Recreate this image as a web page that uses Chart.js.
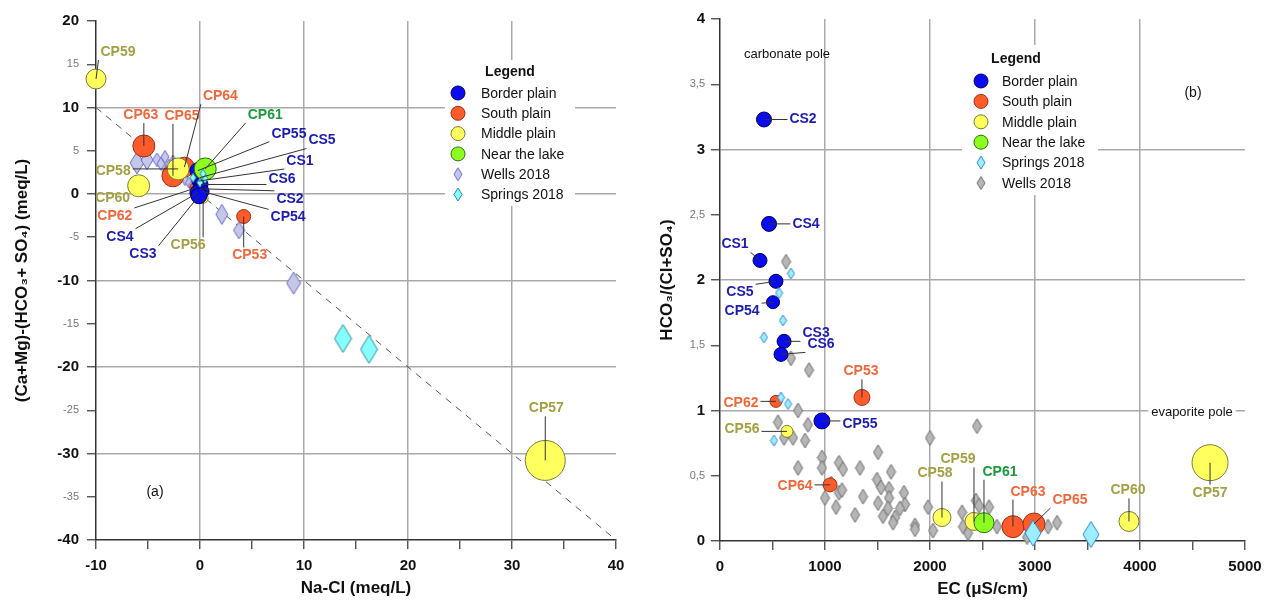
<!DOCTYPE html>
<html><head><meta charset="utf-8">
<script src="https://cdn.jsdelivr.net/npm/chart.js@4.4.1/dist/chart.umd.min.js"></script>
<style>
html,body{margin:0;padding:0;background:#fff;}
#wrap{position:relative;width:1274px;height:615px;overflow:hidden;}
#c1{position:absolute;left:0;top:0;}
#c2{position:absolute;left:637px;top:0;}
</style></head><body>
<div id="wrap"><canvas id="c1" width="637" height="615"></canvas><canvas id="c2" width="637" height="615"></canvas></div>
<script>
const FONT = "'Liberation Sans', Arial, sans-serif";

/* ---------- DATA: chart (a) ---------- */
const aBorderNames = ['CP55','CS5','CS1','CS6','CS2','CP54','CS4','CS3'];
const aBorderX = [-0.2, 0.0, -0.1, 0.1, 0.0, 0.2, -0.2, -0.1];
const aBorderY = [2.7, 1.9, 1.5, 1.1, 0.6, 0.3, 0.15, -0.2];
const aSouthNames = ['CP63','CP65','CP64','CP62','CP53'];
const aSouthX = [-5.4, -2.6, -1.5, -0.4, 4.2];
const aSouthY = [5.55, 2.1, 3.1, 0.7, -2.6];
const aMiddleNames = ['CP59','CP58','CP60','CP56','CP57'];
const aMiddleX = [-10.0, -2.1, -5.9, 0.3, 33.2];
const aMiddleY = [13.3, 2.9, 0.95, -0.5, -30.8];
const aLakeNames = ['CP61'];
const aLakeX = [0.5];
const aLakeY = [2.9];
const aWellsX = [-6.06, -5.1, -4.13, -3.75, -3.37, -2.98, -2.6, -2.21, -1.83, -1.44, -1.06, -0.77, -3.27, -1.35, 2.1, 3.75, 9.0];
const aWellsY = [3.6, 3.95, 3.95, 3.49, 4.29, 3.26, 3.83, 2.45, 2.0, 1.65, 1.31, 0.96, 2.68, 2.91, -2.36, -4.2, -10.3];
const aSpringsX = [13.75, 16.25, -0.67, 0.0, 0.48, 0.29];
const aSpringsY = [-16.7, -17.96, 1.88, 1.31, 1.77, 2.34];
const aRefLineX = [-10, 40];
const aRefLineY = [10, -40];
const aXTicks = [-10, 0, 10, 20, 30, 40];
const aYTicks = [20, 10, 0, -10, -20, -30, -40];

/* ---------- DATA: chart (b) ---------- */
const bBorderNames = ['CS2','CS4','CS1','CS5','CP54','CS3','CS6','CP55'];
const bBorderX = [419, 467, 381, 533, 505, 610, 581, 971];
const bBorderY = [3.23, 2.43, 2.15, 1.99, 1.83, 1.53, 1.43, 0.92];
const bSouthNames = ['CP62','CP53','CP64','CP63','CP65'];
const bSouthX = [533, 1352, 1048, 2790, 2990];
const bSouthY = [1.07, 1.10, 0.43, 0.11, 0.13];
const bMiddleNames = ['CP56','CP58','CP59','CP60','CP57'];
const bMiddleX = [638, 2114, 2419, 3895, 4667];
const bMiddleY = [0.84, 0.18, 0.15, 0.15, 0.60];
const bLakeNames = ['CP61'];
const bLakeX = [2514];
const bLakeY = [0.14];
const bSpringsX = [676, 562, 600, 419, 581, 648, 514, 2981, 3533];
const bSpringsY = [2.05, 1.90, 1.69, 1.56, 1.10, 1.05, 0.77, 0.06, 0.05];
const bWellsX = [629, 676, 848, 743, 552, 838, 610, 695, 810, 2000, 971, 971, 743, 1133, 1171, 1333, 1505, 1629, 1495, 1610, 1533, 1133, 1162, 1000, 1362, 1105, 1505, 1610, 1752, 1762, 1714, 1286, 1552, 1667, 1648, 1857, 1857, 1981, 2029, 2448, 2305, 2314, 2362, 2438, 2467, 2562, 2638, 2924, 3124, 3210, 1600, 1060];
const bWellsY = [2.14, 1.40, 1.31, 1.00, 0.91, 0.89, 0.79, 0.79, 0.77, 0.79, 0.64, 0.56, 0.56, 0.60, 0.55, 0.56, 0.68, 0.53, 0.47, 0.40, 0.41, 0.37, 0.39, 0.33, 0.34, 0.26, 0.29, 0.33, 0.37, 0.28, 0.25, 0.20, 0.19, 0.18, 0.14, 0.12, 0.09, 0.26, 0.08, 0.88, 0.22, 0.11, 0.06, 0.31, 0.27, 0.26, 0.11, 0.03, 0.11, 0.14, 0.25, 0.44];
const bXTicks = [0, 1000, 2000, 3000, 4000, 5000];
const bYTicks = [0, 1, 2, 3, 4];

/* ---------- STYLES ---------- */
const COL = {
  border: {fill:'#0b0bef', line:'#00005a', text:'#1c1cb0'},
  south:  {fill:'#ff5b2b', line:'#9a3018', text:'#f0683a'},
  middle: {fill:'#ffff5e', line:'#7a7a36', text:'#a3a043'},
  lake:   {fill:'#8cff1e', line:'#2c7010', text:'#1a9a3c'}
};
const aRadius = { border:[8,7,7,7,7,7,8,8], south:[11,11,10,6,7], middle:[10,11,11,5,20], lake:[11] };
const bRadius = { border:[7.5,7.5,7,7,6.5,7,7,8], south:[6,8,7,11,11], middle:[6,9,9,10,18], lake:[10] };
const aWellsH = [22,20,14,13,13,13,12,12,12,12,11,11,12,11,20,17,22];
const aSpringsH = [28,28,9,9,9,9];
const bSpringsH = [11,11,11,11,11,11,11,26,26];
const bWellsH = 15;

const aLabelOffsets = {
  CP59:[22,-27], CP63:[-3,-31], CP65:[9,-60], CP64:[36,-71], CP61:[60,-54],
  CP55:[91,-37], CS5:[122,-37], CS1:[101,-20], CS6:[81,-5], CS2:[90,10], CP54:[86,26],
  CS4:[-78,44], CS3:[-56,58], CP56:[-15,47], CP53:[6,39], CP62:[-81,28],
  CP60:[-26,12,true], CP58:[-65,2], CP57:[1,-52]
};
const bLabelOffsets = {
  CS2:[39,0], CS4:[37,0], CS1:[-25,-16], CS5:[-36,11], CP54:[-31,9], CS3:[32,-8], CS6:[40,-10],
  CP53:[-1,-26], CP62:[-35,2], CP55:[38,3], CP56:[-45,-2], CP64:[-35,1],
  CP58:[-7,-44], CP59:[-16,-62], CP61:[16,-51], CP63:[15,-35], CP65:[36,-24], CP60:[-1,-31], CP57:[0,30]
};

/* ---------- helpers ---------- */
const diamondCache = {};
function diamond(h, fill, stroke) {
  const key = h + fill + stroke;
  if (diamondCache[key]) return diamondCache[key];
  const w = Math.round(h * 0.62);
  const c = document.createElement('canvas');
  c.width = w + 2; c.height = h + 2;
  const g = c.getContext('2d');
  g.beginPath();
  g.moveTo(c.width / 2, 1); g.lineTo(c.width - 1, c.height / 2);
  g.lineTo(c.width / 2, c.height - 1); g.lineTo(1, c.height / 2); g.closePath();
  g.fillStyle = fill; g.fill(); g.lineWidth = 1; g.strokeStyle = stroke; g.stroke();
  diamondCache[key] = c; return c;
}
function pts(xs, ys, names) { return xs.map((x, i) => ({x: x, y: ys[i], name: names ? names[i] : undefined})); }
function circleSet(label, data, radii, col, order) {
  return {label, data, order, clip:false, pointStyle:'circle', pointRadius: radii, pointHoverRadius: radii,
    backgroundColor: col.fill, borderColor: col.line, borderWidth: 1, showLine:false,
    labelColor: col.text, legendMarker: {type:'circle', fill: col.fill, line: col.line}};
}
function diamondSet(label, data, heights, fill, stroke, order) {
  const hs = Array.isArray(heights) ? heights : data.map(() => heights);
  return {label, data, order, clip:false, pointStyle: hs.map(h => diamond(h, fill, stroke)), pointRadius: hs.map(h => h / 2),
    backgroundColor: fill, borderColor: stroke, showLine:false,
    legendMarker: {type:'diamond', fill, line: stroke}};
}

const pointLabels = {
  id:'pointLabels',
  afterDatasetsDraw(chart, args, opts) {
    const ctx = chart.ctx, offsets = opts.offsets;
    ctx.save();
    ctx.font = 'bold 14px ' + FONT;
    ctx.textAlign = 'center'; ctx.textBaseline = 'middle';
    chart.data.datasets.forEach((ds, di) => {
      if (!ds.labelColor) return;
      const meta = chart.getDatasetMeta(di);
      ds.data.forEach((p, i) => {
        const off = offsets[p.name];
        if (!off) return;
        const el = meta.data[i];
        const lx = el.x + off[0], ly = el.y + off[1];
        const w = ctx.measureText(p.name).width, h = 12;
        if (!off[2]) {
          const ex = Math.min(Math.max(el.x, lx - w / 2 - 2), lx + w / 2 + 2);
          const ey = Math.min(Math.max(el.y, ly - h / 2 - 2), ly + h / 2 + 2);
          ctx.beginPath(); ctx.moveTo(el.x, el.y); ctx.lineTo(ex, ey);
          ctx.strokeStyle = '#333'; ctx.lineWidth = 1; ctx.stroke();
        }
        ctx.fillStyle = ds.labelColor;
        ctx.fillText(p.name, lx, ly);
      });
    });
    ctx.restore();
  }
};

const boxLegend = {
  id:'boxLegend',
  beforeDatasetsDraw(chart, args, o) {
    const ctx = chart.ctx;
    ctx.save();
    ctx.fillStyle = '#fff';
    ctx.fillRect(o.box[0], o.box[1], o.box[2], o.box[3]);
    (o.texts || []).forEach(t => {
      ctx.font = (t.bold ? 'bold ' : '') + (t.size || 14) + 'px ' + FONT;
      ctx.textAlign = t.align || 'center'; ctx.textBaseline = 'middle';
      if (t.bg) {
        const w = ctx.measureText(t.text).width;
        ctx.fillStyle = '#fff';
        const x0 = t.align === 'left' ? t.x : t.x - w / 2;
        ctx.fillRect(x0 - 3, t.y - 9, w + 6, 18);
      }
      ctx.fillStyle = '#111';
      ctx.fillText(t.text, t.x, t.y);
    });
    ctx.font = 'bold 14px ' + FONT; ctx.fillStyle = '#111';
    ctx.textAlign = 'center'; ctx.textBaseline = 'middle';
    ctx.fillText('Legend', o.titleX, o.titleY);
    ctx.font = '14px ' + FONT; ctx.textAlign = 'left';
    o.order.forEach((lab, i) => {
      const ds = chart.data.datasets.find(d => d.label === lab);
      const y = o.rowY + i * o.rowH;
      const m = ds.legendMarker;
      if (m.type === 'circle') {
        ctx.beginPath(); ctx.arc(o.markerX, y, 7, 0, Math.PI * 2);
        ctx.fillStyle = m.fill; ctx.fill(); ctx.strokeStyle = m.line; ctx.lineWidth = 1; ctx.stroke();
      } else {
        const img = diamond(13, m.fill, m.line);
        ctx.drawImage(img, o.markerX - img.width / 2, y - img.height / 2);
      }
      ctx.fillStyle = '#111';
      ctx.fillText(lab, o.textX, y + 1);
    });
    ctx.restore();
  }
};

Chart.defaults.font.family = FONT;

function majorFont(isMajor) {
  return isMajor ? {family:FONT, size:15, weight:'bold'} : {family:FONT, size:11, weight:'normal'};
}
function makeScale(o) {
  return {
    type:'linear', min:o.min, max:o.max,
    border:{color:'#333', width:1.5},
    ticks:{
      stepSize:o.step, autoSkip:false, maxRotation:0, padding:o.pad,
      callback:o.cb,
      font: c => majorFont(c.tick && o.major.includes(c.tick.value)),
      color: c => (c.tick && o.major.includes(c.tick.value)) ? '#111' : '#777'
    },
    grid:{
      color: c => (c.tick && o.grid.includes(c.tick.value)) ? '#a9a9a9' : 'rgba(0,0,0,0)',
      lineWidth:1.5, tickLength:o.tl || 9, tickColor:'#444', tickWidth:1.3
    },
    title:{display:true, text:o.title, color:'#111', font:{family:FONT, size:17, weight:'bold'}, padding:o.tpad},
    afterFit: o.fit
  };
}

/* ---------- chart (a) ---------- */
new Chart(document.getElementById('c1'), {
  type:'scatter',
  data:{datasets:[
    {label:'ref', type:'line', data: pts(aRefLineX, aRefLineY), borderColor:'#555', borderWidth:1, borderDash:[7,6], pointRadius:0, fill:false, order:10},
    diamondSet('Wells 2018', pts(aWellsX, aWellsY), aWellsH, '#c6c6e6', '#6a6ad0', 6),
    circleSet('South plain', pts(aSouthX, aSouthY, aSouthNames), aRadius.south, COL.south, 5),
    circleSet('Middle plain', pts(aMiddleX, aMiddleY, aMiddleNames), aRadius.middle, COL.middle, 4),
    circleSet('Border plain', pts(aBorderX, aBorderY, aBorderNames), aRadius.border, COL.border, 3),
    circleSet('Near the lake', pts(aLakeX, aLakeY, aLakeNames), aRadius.lake, COL.lake, 2),
    diamondSet('Springs 2018', pts(aSpringsX, aSpringsY), aSpringsH, '#88ffff', '#2a8aa0', 1)
  ]},
  options:{
    responsive:false, animation:false, events:[],
    layout:{padding:{top:17, right:21, left:0, bottom:0}},
    plugins:{
      legend:{display:false}, tooltip:{enabled:false},
      pointLabels:{offsets:aLabelOffsets},
      boxLegend:{box:[445,60,130,146], titleX:510, titleY:72, markerX:458, textX:481, rowY:93, rowH:20.3,
        order:['Border plain','South plain','Middle plain','Near the lake','Wells 2018','Springs 2018'],
        texts:[{text:'(a)', x:155, y:492}]}
    },
    scales:{
      x: makeScale({min:-10, max:40, step:5, pad:8, major:aXTicks, grid:[0,10,20,30],
        cb: v => aXTicks.includes(v) ? String(v) : '', title:'Na-Cl (meq/L)', tpad:{top:0, bottom:16},
        fit: s => { s.height = 75; }}),
      y: makeScale({min:-40, max:20, step:5, pad:8, major:aYTicks, grid:[10,0,-10,-20,-30],
        cb: v => String(v), title:'(Ca+Mg)-(HCO₃+ SO₄) (meq/L)', tpad:{top:12, bottom:0},
        fit: s => { s.width = 96; }})
    }
  },
  plugins:[boxLegend, pointLabels]
});

/* ---------- chart (b) ---------- */
new Chart(document.getElementById('c2'), {
  type:'scatter',
  data:{datasets:[
    diamondSet('Wells 2018', pts(bWellsX, bWellsY), bWellsH, '#b6b6b6', '#6e6e6e', 6),
    circleSet('South plain', pts(bSouthX, bSouthY, bSouthNames), bRadius.south, COL.south, 5),
    circleSet('Middle plain', pts(bMiddleX, bMiddleY, bMiddleNames), bRadius.middle, COL.middle, 4),
    circleSet('Border plain', pts(bBorderX, bBorderY, bBorderNames), bRadius.border, COL.border, 3),
    circleSet('Near the lake', pts(bLakeX, bLakeY, bLakeNames), bRadius.lake, COL.lake, 2),
    diamondSet('Springs 2018', pts(bSpringsX, bSpringsY), bSpringsH, '#9eeeff', '#2f86d8', 1)
  ]},
  options:{
    responsive:false, animation:false, events:[],
    layout:{padding:{top:17, right:29, left:0, bottom:0}},
    plugins:{
      legend:{display:false}, tooltip:{enabled:false},
      pointLabels:{offsets:bLabelOffsets},
      boxLegend:{box:[325,45,136,150], titleX:379, titleY:59, markerX:344, textX:365, rowY:81, rowH:20.4,
        order:['Border plain','South plain','Middle plain','Near the lake','Springs 2018','Wells 2018'],
        texts:[{text:'carbonate pole', x:150, y:54, size:13},
               {text:'(b)', x:556, y:93},
               {text:'evaporite pole', x:555, y:412, size:13, bg:true}]}
    },
    scales:{
      x: makeScale({min:0, max:5000, step:500, pad:8, major:bXTicks, grid:[1000,2000,3000,4000],
        cb: v => bXTicks.includes(v) ? String(v) : '', title:'EC (μS/cm)', tpad:{top:0, bottom:15},
        fit: s => { s.height = 74; }}),
      y: makeScale({min:0, max:4, step:0.5, pad:6, major:bYTicks, grid:[1,2,3],
        cb: v => String(v).replace('.', ','), title:'HCO₃/(Cl+SO₄)', tpad:{top:20, bottom:0},
        fit: s => { s.width = 83; }})
    }
  },
  plugins:[boxLegend, pointLabels]
});
</script>
</body></html>
